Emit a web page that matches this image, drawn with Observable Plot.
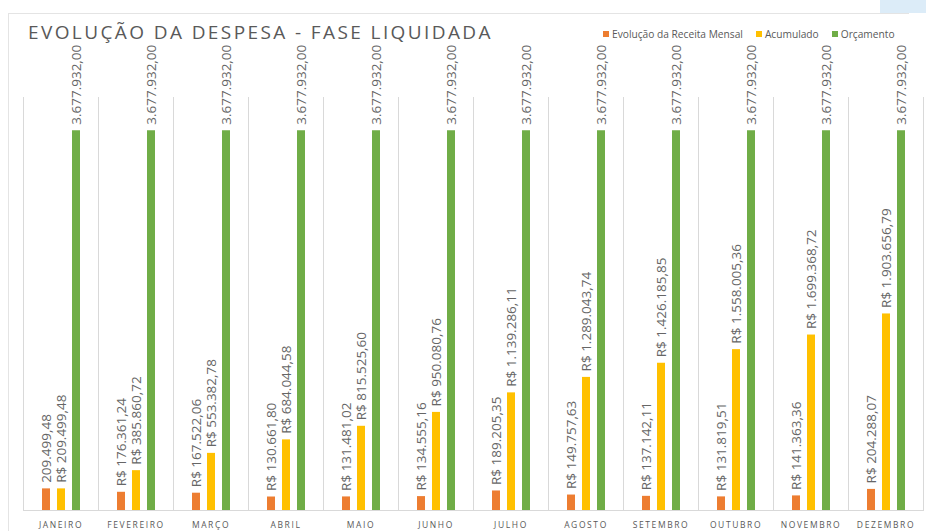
<!DOCTYPE html>
<html>
<head>
<meta charset="utf-8">
<script src="https://cdn.jsdelivr.net/npm/d3@7"></script>
<script src="https://cdn.jsdelivr.net/npm/@observablehq/plot@0.6"></script>
<style>
  body { margin: 0; background: #fff; font-family: "Open Sans", sans-serif; }
  #wrap { position: relative; width: 926px; height: 531px; overflow: hidden; background: #fff; }
  #wrap svg { position: absolute; left: 0; top: 0; overflow: visible; }
  #frameline { position: absolute; left: 8px; top: 13px; width: 900px; height: 540px; border-left: 1px solid #e4e4e4; border-top: 1px solid #e4e4e4; }
  #bluepatch { position: absolute; left: 880px; top: 0; width: 46px; height: 13px; background: #dcecf8; }
  #title { position: absolute; left: 28px; top: 23px; font-size: 19px; line-height: 1; letter-spacing: 2.4px; color: #595959; white-space: nowrap; }
  #legend { position: absolute; left: 603px; top: 29px; font-size: 10.2px; line-height: 1; color: #595959; white-space: nowrap; display: flex; }
  #legend .item { display: flex; align-items: center; margin-right: 13px; }
  #legend .sw { width: 6px; height: 6px; margin-right: 3px; }
  #wrap svg g[aria-label="fx-axis tick label"] text { letter-spacing: 1.6px; }
</style>
</head>
<body>
<div id="wrap">
  <div id="frameline"></div>
  <div id="bluepatch"></div>
  <div id="title">EVOLUÇÃO DA DESPESA - FASE LIQUIDADA</div>
  <div id="legend"></div>
</div>
<script>
const months = ["JANEIRO", "FEVEREIRO", "MARÇO", "ABRIL", "MAIO", "JUNHO", "JULHO", "AGOSTO", "SETEMBRO", "OUTUBRO", "NOVEMBRO", "DEZEMBRO"];
const series = ["Evolução da Receita Mensal", "Acumulado", "Orçamento"];
const colors = ["#ED7D31", "#FFC000", "#70AD47"];
const monthly = [209499.48, 176361.24, 167522.06, 130661.80, 131481.02, 134555.16, 189205.35, 149757.63, 137142.11, 131819.51, 141363.36, 204288.07];
const accumulated = [209499.48, 385860.72, 553382.78, 684044.58, 815525.60, 950080.76, 1139286.11, 1289043.74, 1426185.85, 1558005.36, 1699368.72, 1903656.79];
const budget = [3677932.00, 3677932.00, 3677932.00, 3677932.00, 3677932.00, 3677932.00, 3677932.00, 3677932.00, 3677932.00, 3677932.00, 3677932.00, 3677932.00];
const monthlyPrefix = ["", "R$ ", "R$ ", "R$ ", "R$ ", "R$ ", "R$ ", "R$ ", "R$ ", "R$ ", "R$ ", "R$ "];
const accumulatedPrefix = "R$ ";
const budgetPrefix = "";

const fmt = d3.formatLocale({decimal: ",", thousands: ".", grouping: [3], currency: ["R$ ", ""]}).format(",.2f");

const data = months.flatMap((m, i) => [
  {month: m, series: series[0], value: monthly[i], label: monthlyPrefix[i] + fmt(monthly[i])},
  {month: m, series: series[1], value: accumulated[i], label: accumulatedPrefix + fmt(accumulated[i])},
  {month: m, series: series[2], value: budget[i], label: budgetPrefix + fmt(budget[i])}
]);

const chart = Plot.plot({
  width: 926,
  height: 531,
  marginTop: 97,
  marginBottom: 21,
  marginLeft: 23,
  marginRight: 3,
  style: {fontFamily: "Open Sans", color: "#595959", background: "transparent"},
  fx: {domain: months, padding: 0, label: null},
  x: {domain: series, paddingInner: 0.48, paddingOuter: 1.16, axis: null},
  y: {domain: [0, 4000000], axis: null},
  color: {domain: series, range: colors},
  marks: [
    Plot.frame({anchor: "left", stroke: "#d9d9d9"}),
    Plot.frame({anchor: "right", stroke: "#d9d9d9"}),
    Plot.ruleY([0], {stroke: "#d9d9d9"}),
    Plot.barY(data, {fx: "month", x: "series", y: "value", fill: "series"}),
    Plot.text(data, {fx: "month", x: "series", y: "value", text: "label", rotate: -90, textAnchor: "start", dy: -6, fontSize: 13.5, fill: "#666666"}),
    Plot.axisFx({anchor: "bottom", tickSize: 0, tickPadding: 11, fontSize: 8.5, label: null, fill: "#595959"})
  ]
});
document.getElementById("wrap").insertBefore(chart, document.getElementById("title"));

const legend = document.getElementById("legend");
series.forEach((s, i) => {
  const item = document.createElement("div");
  item.className = "item";
  const sw = document.createElement("div");
  sw.className = "sw";
  sw.style.background = colors[i];
  const t = document.createElement("span");
  t.textContent = s;
  item.appendChild(sw);
  item.appendChild(t);
  legend.appendChild(item);
});
</script>
</body>
</html>
